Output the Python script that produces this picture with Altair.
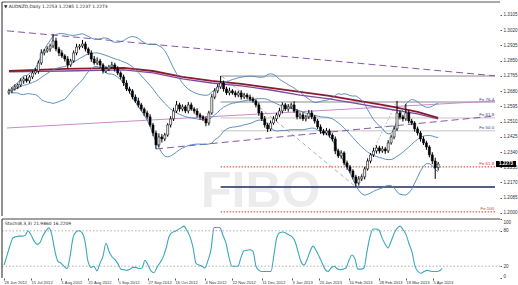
import altair as alt
import pandas as pd

FONT = "Liberation Sans"

# ---------------- data ----------------
first_open = 1.2670
closes = [1.2681, 1.2692, 1.2703, 1.2714, 1.2737, 1.2748, 1.2737, 1.2759, 1.2781, 1.2792,
          1.2837, 1.2893, 1.2904, 1.2915, 1.2932, 1.2960, 1.2915, 1.2893, 1.2876, 1.2859,
          1.2826, 1.2848, 1.2893, 1.2926, 1.2932, 1.2943, 1.2915, 1.2893, 1.2859, 1.2837,
          1.2848, 1.2826, 1.2792, 1.2804, 1.2815, 1.2826, 1.2804, 1.2781, 1.2759, 1.2725,
          1.2692, 1.2681, 1.2647, 1.2625, 1.2603, 1.2580, 1.2558, 1.2536, 1.2491, 1.2446,
          1.2380, 1.2424, 1.2413, 1.2435, 1.2491, 1.2525, 1.2569, 1.2603, 1.2580, 1.2592,
          1.2569, 1.2603, 1.2580, 1.2569, 1.2547, 1.2536, 1.2525, 1.2502, 1.2558, 1.2647,
          1.2681, 1.2703, 1.2725, 1.2692, 1.2670, 1.2681, 1.2670, 1.2658, 1.2670, 1.2647,
          1.2658, 1.2647, 1.2636, 1.2625, 1.2603, 1.2558, 1.2525, 1.2491, 1.2469, 1.2502,
          1.2525, 1.2547, 1.2569, 1.2603, 1.2580, 1.2592, 1.2603, 1.2569, 1.2536, 1.2547,
          1.2525, 1.2536, 1.2558, 1.2536, 1.2513, 1.2480, 1.2458, 1.2446, 1.2458, 1.2435,
          1.2413, 1.2346, 1.2318, 1.2335, 1.2279, 1.2257, 1.2234, 1.2201, 1.2167, 1.2190,
          1.2201, 1.2246, 1.2290, 1.2324, 1.2346, 1.2363, 1.2346, 1.2357, 1.2346, 1.2391,
          1.2424, 1.2469, 1.2558, 1.2536, 1.2525, 1.2558, 1.2513, 1.2502, 1.2469, 1.2446,
          1.2413, 1.2391, 1.2368, 1.2324, 1.2290, 1.2253, 1.2273]
up_wick_pips = [12, 10, 14, 9, 15, 12, 18, 10, 13, 16,
                14, 20, 11, 15, 12, 39, 18, 12, 15, 10,
                16, 12, 14, 18, 10, 22, 13, 9, 14, 17,
                20, 12, 10, 15, 11, 18, 12, 14, 9, 13,
                16, 12, 10, 14, 18, 11, 9, 13, 15, 12,
                14, 20, 16, 12, 10, 15, 18, 22, 12, 14,
                11, 16, 13, 10, 15, 12, 9, 14, 12, 18,
                15, 16, 39, 14, 12, 18, 10, 13, 11, 15,
                12, 10, 14, 12, 9, 13, 11, 16, 12, 14,
                15, 12, 18, 14, 10, 16, 12, 20, 11, 13,
                14, 12, 17, 15, 10, 12, 14, 11, 16, 12,
                10, 14, 12, 15, 9, 13, 11, 10, 12, 16,
                14, 12, 15, 10, 18, 14, 12, 16, 11, 15,
                13, 18, 67, 14, 12, 50, 15, 12, 10, 13,
                11, 14, 12, 10, 15, 18, 12]
dn_wick_pips = [10, 14, 9, 12, 11, 16, 10, 13, 12, 9,
                15, 11, 14, 10, 16, 12, 13, 18, 12, 14,
                20, 12, 10, 13, 15, 11, 14, 12, 16, 10,
                12, 18, 14, 11, 13, 10, 15, 12, 14, 16,
                12, 15, 13, 10, 14, 12, 16, 14, 11, 18,
                23, 14, 20, 12, 10, 14, 12, 11, 15, 13,
                12, 14, 10, 15, 13, 16, 12, 18, 14, 10,
                12, 13, 11, 15, 12, 14, 10, 13, 12, 15,
                11, 13, 12, 10, 14, 16, 12, 15, 18, 12,
                10, 13, 12, 14, 11, 15, 12, 10, 14, 13,
                12, 15, 11, 13, 14, 12, 16, 13, 12, 15,
                14, 18, 12, 15, 13, 16, 12, 14, 22, 15,
                12, 14, 10, 13, 12, 15, 14, 11, 16, 12,
                10, 13, 12, 14, 15, 11, 13, 12, 16, 14,
                15, 12, 16, 14, 18, 63, 16]
stoch = [22, 38, 55, 68, 70, 71, 71, 72, 80, 73,
         63, 57, 60, 72, 80, 85, 72, 45, 28, 25,
         20, 16, 36, 68, 78, 80, 77, 62, 28, 18,
         20, 12, 25, 37, 59, 45, 36, 31, 24, 15,
         14, 13, 15, 18, 18, 16, 17, 30, 22, 12,
         9, 18, 26, 35, 50, 70, 77, 79, 82, 85,
         88, 80, 70, 52, 25, 22, 20, 17, 30, 48,
         85, 86, 85, 72, 59, 35, 20, 20, 20, 35,
         46, 47, 48, 45, 20, 13, 11, 11, 11, 11,
         40, 70, 77, 78, 76, 73, 70, 62, 45, 28,
         22, 31, 45, 54, 47, 37, 26, 15, 11, 17,
         20, 16, 14, 15, 17, 30, 39, 32, 15, 15,
         17, 45, 70, 83, 83, 81, 68, 58, 51, 62,
         75, 84, 88, 82, 74, 58, 44, 20, 11, 8,
         11, 13, 12, 11, 11, 12, 16]

# long moving averages (bar index, price)
ma_idx = [0, 19, 39, 49, 59, 69, 79, 89, 99, 109, 119, 129, 139, 146]
ma_slow = [1.2792, 1.2804, 1.2809, 1.2792, 1.2759, 1.2737, 1.2720, 1.2698, 1.2675, 1.2653, 1.2625, 1.2597, 1.2564, 1.2530]
ma_fast = [1.2787, 1.2792, 1.2798, 1.2781, 1.2748, 1.2725, 1.2709, 1.2686, 1.2658, 1.2636, 1.2608, 1.2580, 1.2553, 1.2525]

# drawn objects (bar index, price)
trend_dash = [(-0.667, 1.3016, 165.33, 1.2765), (50, 1.2357, 165.33, 1.2541)]
trend_thin = [(-0.667, 1.2474, 165.33, 1.2625)]
fib_diag_dash = [(72.33, 1.2764, 118, 1.2145)]
fib_diag_dot = [(118, 1.2145, 132, 1.2625)]
fib_start, fib_end = 72, 165.33
lvl_gray = [1.2764, 1.2619]
lvl_light = [1.2530, 1.2458]
lvl_red = [1.2257, 1.2006]
lvl_navy = [1.2145]
fib_label_text = ["Fe 76.4", "Fe 61.8", "Fe 50.0", "Fe 61.8", "Fe 100"]
fib_label_price = [1.2619, 1.2530, 1.2458, 1.2257, 1.2006]
fib_label_color = ["#3a3a6e", "#3a3a6e", "#3a3a6e", "#c0392b", "#c0392b"]

price_ticks = [1.3105, 1.3020, 1.2935, 1.2850, 1.2765, 1.2680, 1.2595, 1.2510,
               1.2425, 1.2340, 1.2255, 1.2170, 1.2085, 1.2000]
date_idx = [0, 9, 19, 28, 38, 48, 57, 67, 76, 86, 96, 105, 115, 125, 134, 143]
date_labels = ["26 Jun 2012", "15 Jul 2012", "1 Aug 2012", "21 Aug 2012", "5 Sep 2012",
               "27 Sep 2012", "16 Oct 2012", "4 Nov 2012", "22 Nov 2012", "11 Dec 2012",
               "3 Jan 2013", "23 Jan 2013", "10 Feb 2013", "28 Feb 2013", "19 Mar 2013",
               "5 Apr 2013"]
title_text = "\u25bc AUDNZD,Daily  1.2253 1.2285 1.2237 1.2273"
stoch_text = "Stoch(8,3,3) 21.9860 16.2209"
last_price = 1.2273

# ---------------- tables ----------------
n = len(closes)
opens = [first_open] + closes[:-1]
cdf = pd.DataFrame({
    "i": list(range(n)),
    "open": opens,
    "close": closes,
    "high": [round(max(o, c) + u / 10000, 4) for o, c, u in zip(opens, closes, up_wick_pips)],
    "low": [round(min(o, c) - d / 10000, 4) for o, c, d in zip(opens, closes, dn_wick_pips)],
    "stoch": stoch,
})
ma_df = pd.DataFrame({"i": ma_idx, "slow": ma_slow, "fast": ma_fast})


def seg_df(segs):
    return pd.DataFrame(segs, columns=["i0", "p0", "i1", "p1"])


def lvl_df(levels):
    return pd.DataFrame({"i0": fib_start, "i1": fib_end, "p": levels})


W, HP, HS = 498, 214, 59
xs = alt.Scale(domain=[-0.667, 165.33], nice=False, zero=False)
ys = alt.Scale(domain=[1.1983, 1.3177], nice=False, zero=False)
ss = alt.Scale(domain=[0, 100], nice=False, zero=False)

yaxis = alt.Axis(orient="right", values=price_ticks, format=".4f", domain=False, grid=False,
                 ticks=True, tickSize=1.5, tickColor="#555", labelFontSize=4.6,
                 labelColor="#333", labelPadding=1.5, labelFont=FONT, title=None)


def PY(field):
    return alt.Y(field, scale=ys, axis=yaxis)


def PX(field):
    return alt.X(field, scale=xs, axis=None)


one = pd.DataFrame({"t": [0]})

# watermark
water = alt.Chart(one).mark_text(text="FIBO", font=FONT, fontSize=50, fontWeight="bold",
                                 color="#ececec", align="left", baseline="bottom").encode(
    x=alt.value(199), y=alt.value(HP + 1))


def lvl_layer(levels, color, width=1, dash=None):
    kw = dict(color=color, strokeWidth=width)
    if dash:
        kw["strokeDash"] = dash
    return alt.Chart(lvl_df(levels)).mark_rule(**kw).encode(
        x=PX("i0:Q"), x2="i1:Q", y=PY("p:Q"))


def seg_layer(segs, color, width=1, dash=None):
    kw = dict(color=color, strokeWidth=width)
    if dash:
        kw["strokeDash"] = dash
    return alt.Chart(seg_df(segs)).mark_rule(**kw).encode(
        x=PX("i0:Q"), x2="i1:Q", y=PY("p0:Q"), y2="p1:Q")


levels = [
    lvl_layer(lvl_gray, "#8c8c8c"),
    lvl_layer(lvl_light, "#c4c4c4"),
    lvl_layer(lvl_red, "#c0392b", 1, [1.5, 1.5]),
    lvl_layer(lvl_navy, "#1f2a5c", 1.5),
]
trends = [
    seg_layer(fib_diag_dash, "#9a9a9a", 0.8, [4, 3]),
    seg_layer(fib_diag_dot, "#9a9a9a", 0.8, [1.5, 2]),
    seg_layer(trend_thin, "#c98bc9", 1),
    seg_layer(trend_dash, "#8a56a6", 1, [7, 4]),
]

base_ma = alt.Chart(ma_df)
ma_layers = [
    base_ma.mark_line(color="#7d4a9e", strokeWidth=1.3).encode(x=PX("i:Q"), y=PY("fast:Q")),
    base_ma.mark_line(color="#8b1a2e", strokeWidth=1.8).encode(x=PX("i:Q"), y=PY("slow:Q")),
]

bb = alt.Chart(cdf).transform_window(
    mid="mean(close)", sd="stdev(close)", frame=[-19, 0], sort=[alt.SortField("i")]
).transform_calculate(
    up="datum.mid + 2*datum.sd", lo="datum.mid - 2*datum.sd")
bb_layers = [
    bb.mark_line(color="#4c84b8", strokeWidth=0.9).encode(x=PX("i:Q"), y=PY(f"{f}:Q"))
    for f in ["up", "mid", "lo"]
]

wicks = alt.Chart(cdf).mark_rule(color="black", strokeWidth=1).encode(
    x=PX("i:Q"), y=PY("low:Q"), y2="high:Q")
bodies = alt.Chart(cdf).mark_bar(width=2, stroke="black", strokeWidth=0.6).encode(
    x=PX("i:Q"), y=PY("open:Q"), y2="close:Q",
    fill=alt.condition("datum.close < datum.open", alt.value("black"), alt.value("white")))

lab_df = pd.DataFrame({"t": fib_label_text, "p": fib_label_price, "c": fib_label_color,
                       "i": [fib_end - 0.3] * len(fib_label_text)})
fib_labels = alt.Chart(lab_df).mark_text(font=FONT, fontSize=4.4, align="right",
                                         baseline="bottom", dy=-0.5).encode(
    x=PX("i:Q"), y=PY("p:Q"), text="t:N", color=alt.Color("c:N", scale=None))

title = alt.Chart(one).mark_text(text=title_text, font="DejaVu Sans", fontSize=4.4, align="left",
                                 baseline="middle", color="#222").encode(
    x=alt.value(2), y=alt.value(5))

box_df = pd.DataFrame({"p": [last_price], "t": [f"{last_price:.4f}"]})
box = alt.Chart(box_df).transform_calculate(
    hi="datum.p + 0.0017", lo="datum.p - 0.0017").mark_rect(color="black").encode(
    x=alt.value(494), x2=alt.value(514), y=PY("hi:Q"), y2="lo:Q")
box_txt = alt.Chart(box_df).mark_text(font=FONT, fontSize=4.6, color="white",
                                      fontWeight="bold", baseline="middle").encode(
    x=alt.value(504), y=PY("p:Q"), text="t:N")

border_top = alt.Chart(one).mark_rule(color="#555", strokeWidth=1).encode(
    x=alt.value(0), x2=alt.value(W), y=alt.value(0))
border_left = alt.Chart(one).mark_rule(color="#222", strokeWidth=1).encode(
    x=alt.value(0), y=alt.value(0), y2=alt.value(HP))

price = alt.layer(
    water, *levels, *trends, *ma_layers, *bb_layers, wicks, bodies,
    fib_labels, title, box, box_txt, border_top, border_left
).properties(width=W, height=HP)

# ---------------- stochastic panel ----------------
expr = "[" + ",".join(f"'{d}'" for d in date_labels) + "][indexof([" + \
       ",".join(str(v) for v in date_idx) + "], datum.value)]"
xaxis = alt.Axis(values=date_idx, labelExpr=expr, labelAlign="left", labelFontSize=4.1,
                 labelColor="#333", labelFont=FONT, domain=False, ticks=True, tickSize=2,
                 tickColor="#555", labelPadding=0, labelOverlap=False, labelFlush=False,
                 grid=False, title=None)
saxis = alt.Axis(orient="right", values=[0, 20, 80, 100], domain=False, grid=False,
                 ticks=True, tickSize=1.5, tickColor="#555", labelFontSize=4.6,
                 labelColor="#333", labelPadding=1.5, labelFont=FONT, labelFlush=True,
                 title=None)

lv_df = pd.DataFrame({"v": [20, 80]})
s_levels = alt.Chart(lv_df).mark_rule(color="#9a9a9a", strokeWidth=0.8,
                                      strokeDash=[1.5, 2]).encode(
    y=alt.Y("v:Q", scale=ss, axis=saxis), x=alt.value(0), x2=alt.value(W))
s_line = alt.Chart(cdf).mark_line(color="#3aa8ba", strokeWidth=1.1,
                                  interpolate="monotone").encode(
    x=alt.X("i:Q", scale=xs, axis=xaxis),
    y=alt.Y("stoch:Q", scale=ss, axis=saxis))
s_title = alt.Chart(one).mark_text(text=stoch_text, font="DejaVu Sans", fontSize=4.4,
                                   align="left", baseline="middle", color="#222").encode(
    x=alt.value(3), y=alt.value(5))
s_top = alt.Chart(one).mark_rule(color="#a0a0a0", strokeWidth=2).encode(
    x=alt.value(0), x2=alt.value(W), y=alt.value(0))
s_left = alt.Chart(one).mark_rule(color="#222", strokeWidth=1).encode(
    x=alt.value(0), y=alt.value(0), y2=alt.value(HS))

stoch_chart = alt.layer(s_levels, s_line, s_title, s_top, s_left).properties(
    width=W, height=HS)

chart = alt.vconcat(price, stoch_chart, spacing=1).properties(
    padding={"left": 1, "top": 1, "right": 0, "bottom": 0},
    background="white",
).configure_view(stroke=None)

chart.save("out.html", embed_options={"renderer": "svg", "actions": False})
